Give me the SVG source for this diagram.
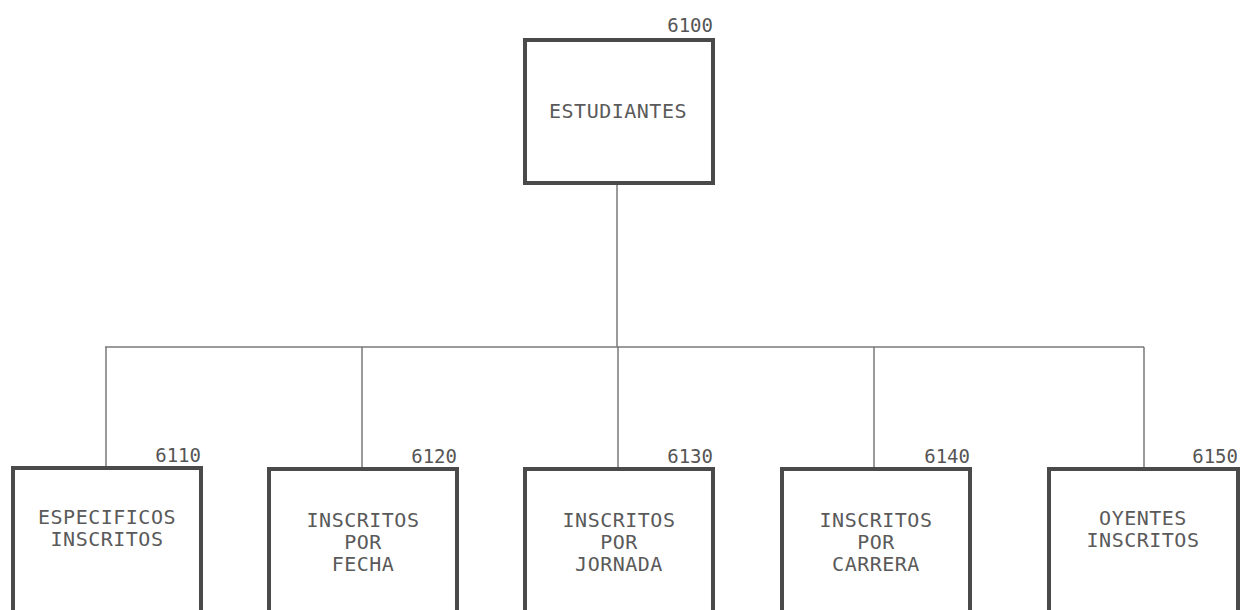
<svg xmlns="http://www.w3.org/2000/svg" width="1242" height="610" viewBox="0 0 1242 610">
<style>
.box{fill:none;stroke:#4a4a4a;stroke-width:4}
.conn{fill:none;stroke:#7a7a7a;stroke-width:1.5}
.t{font-family:"DejaVu Sans Mono","Liberation Mono",monospace;font-size:20px;fill:#5a5a5a;text-anchor:middle;letter-spacing:0.5px}
.n{font-family:"DejaVu Sans Mono","Liberation Mono",monospace;font-size:19px;fill:#555;text-anchor:end}
</style>
<rect width="1242" height="610" fill="#fff"/>
<g id="connectors">
<path class="conn" d="M617 183 V347 M105 347 H1144 M106 347 V468 M362 347 V469 M618 347 V469 M874 347 V469 M1144 347 V469"/>
</g>
<g id="n6100">
<rect class="box" x="525" y="40" width="188" height="143"/>
<text class="n" x="713" y="32">6100</text>
<text class="t" x="618" y="118">ESTUDIANTES</text>
</g>
<g id="n6110">
<rect class="box" x="13" y="468" width="188" height="160"/>
<text class="n" x="201" y="462">6110</text>
<text class="t" x="107" y="524">ESPECIFICOS</text>
<text class="t" x="107" y="546">INSCRITOS</text>
</g>
<g id="n6120">
<rect class="box" x="269" y="469" width="188" height="160"/>
<text class="n" x="457" y="463">6120</text>
<text class="t" x="363" y="527">INSCRITOS</text>
<text class="t" x="363" y="549">POR</text>
<text class="t" x="363" y="571">FECHA</text>
</g>
<g id="n6130">
<rect class="box" x="525" y="469" width="188" height="160"/>
<text class="n" x="713" y="463">6130</text>
<text class="t" x="619" y="527">INSCRITOS</text>
<text class="t" x="619" y="549">POR</text>
<text class="t" x="619" y="571">JORNADA</text>
</g>
<g id="n6140">
<rect class="box" x="782" y="469" width="188" height="160"/>
<text class="n" x="970" y="463">6140</text>
<text class="t" x="876" y="527">INSCRITOS</text>
<text class="t" x="876" y="549">POR</text>
<text class="t" x="876" y="571">CARRERA</text>
</g>
<g id="n6150">
<rect class="box" x="1049" y="469" width="189" height="160"/>
<text class="n" x="1238" y="463">6150</text>
<text class="t" x="1143" y="525">OYENTES</text>
<text class="t" x="1143" y="547">INSCRITOS</text>
</g>
</svg>
